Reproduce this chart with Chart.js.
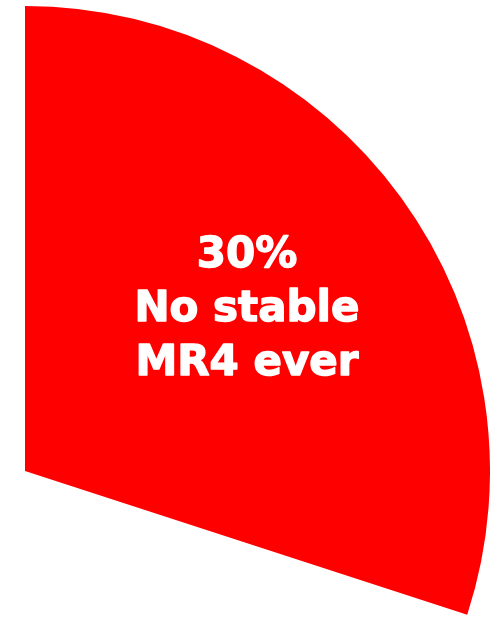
<!DOCTYPE html>
<html>
<head>
<meta charset="utf-8">
<script src="https://cdn.jsdelivr.net/npm/chart.js@4"></script>
<style>
  html, body { margin: 0; padding: 0; background: #fff; overflow: hidden; width: 503px; height: 617px; }
  #wrap { position: absolute; left: -440px; top: 6px; width: 930px; height: 930px; }
</style>
</head>
<body>
<div id="wrap"><canvas id="pie"></canvas></div>
<script>
// Share of patients, in percent
const categories = ['No stable MR4 ever', 'Other'];
const shares = [30, 70];
const sliceLabels = [['30%', 'No stable', 'MR4 ever'], null];

// Writes the label lines inside each slice that has one
const sliceText = {
    id: 'sliceText',
    afterDatasetsDraw(chart) {
        const ctx = chart.ctx;
        const meta = chart.getDatasetMeta(0);
        meta.data.forEach(function(arc, i) {
            const lines = sliceLabels[i];
            if (!lines) return;
            const p = arc.getProps(['x', 'y', 'startAngle', 'endAngle', 'outerRadius'], true);
            const mid = (p.startAngle + p.endAngle) / 2;
            const r = p.outerRadius * 0.59;
            const cx = p.x + Math.cos(mid) * r;
            const cy = p.y + Math.sin(mid) * r;
            const lineHeight = 54;
            ctx.save();
            ctx.fillStyle = '#ffffff';
            ctx.strokeStyle = '#ffffff';
            ctx.lineWidth = 1.4;
            ctx.lineJoin = 'round';
            ctx.font = 'bold 42px "DejaVu Sans"';
            ctx.textAlign = 'center';
            ctx.textBaseline = 'alphabetic';
            lines.forEach(function(line, j) {
                const baseline = cy + 11 + (j - (lines.length - 1) / 2) * lineHeight;
                ctx.fillText(line, cx, baseline);
                ctx.strokeText(line, cx, baseline);
            });
            ctx.restore();
        });
    }
};

new Chart(document.getElementById('pie'), {
    type: 'pie',
    data: {
        labels: categories,
        datasets: [{
            data: shares,
            backgroundColor: ['#ff0000', 'rgba(255,255,255,0)'],
            borderWidth: 0,
            hoverOffset: 0
        }]
    },
    options: {
        responsive: true,
        maintainAspectRatio: false,
        animation: false,
        events: [],
        layout: { padding: 0 },
        plugins: {
            legend: { display: false },
            tooltip: { enabled: false }
        }
    },
    plugins: [sliceText]
});
</script>
</body>
</html>
